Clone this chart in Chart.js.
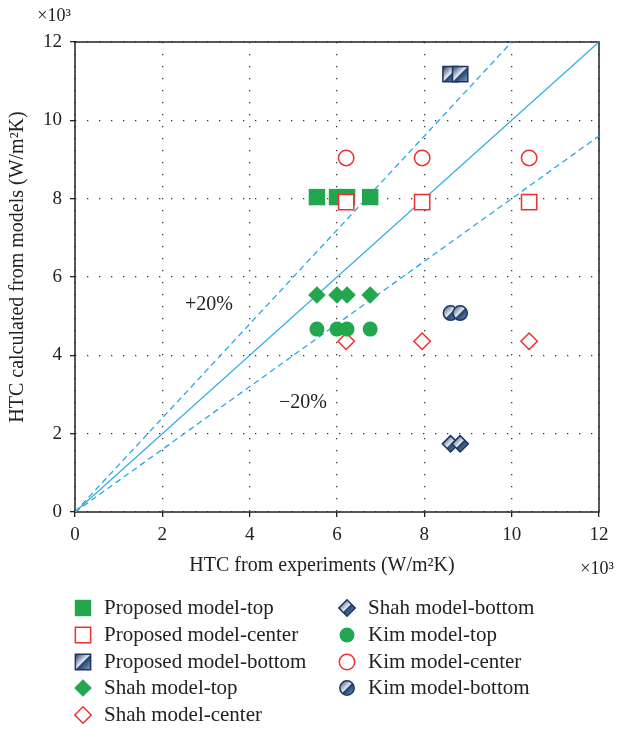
<!DOCTYPE html>
<html>
<head>
<meta charset="utf-8">
<script src="https://cdn.jsdelivr.net/npm/chart.js@4/dist/chart.umd.min.js"></script>
<style>
  html, body { margin: 0; padding: 0; background: #fff; }
  #wrap { width: 619px; height: 729px; }
</style>
</head>
<body>
<div id="wrap"><canvas id="c" width="619" height="729"></canvas></div>
<script>
// Experimental HTC (x10^3 W/m2K) at each tube position
const expTop    = [5.54, 6.00, 6.23, 6.76];
const expCenter = [6.21, 7.95, 10.40];
const expBottom = [8.60, 8.82];

// Model predictions (x10^3 W/m2K), one value per experimental point
const proposedTop    = [8.04, 8.04, 8.04, 8.04];
const proposedCenter = [7.91, 7.91, 7.91];
const proposedBottom = [11.18, 11.18];
const shahTop        = [5.54, 5.54, 5.54, 5.54];
const shahCenter     = [4.36, 4.36, 4.36];
const shahBottom     = [1.74, 1.74];
const kimTop         = [4.67, 4.67, 4.67, 4.67];
const kimCenter      = [9.04, 9.04, 9.04];
const kimBottom      = [5.08, 5.08];

// Parity line and the ±20% band
const parityLine = [[0, 0], [12, 12]];
const upperBand  = [[0, 0], [10, 12]];
const lowerBand  = [[0, 0], [12, 9.6]];

const axisTicks = [0, 2, 4, 6, 8, 10, 12];

const GREEN = '#22a64e';
const RED = '#ee2f2f';
const NAVY = '#1a3560';
const BLUE = '#29a9e0';
const SERIF = '"Liberation Serif", "DejaVu Serif", serif';

function pts(xs, ys) { return xs.map((x, i) => ({ x: x, y: ys[i] })); }
function linePts(arr) { return arr.map(p => ({ x: p[0], y: p[1] })); }

function glossFill(ctx, px, py, r) {
  if (!isFinite(px) || !isFinite(py)) return NAVY;
  const g = ctx.createLinearGradient(px - r, py - r, px + r, py + r);
  g.addColorStop(0, '#17305a');
  g.addColorStop(0.48, '#e6ecf3');
  g.addColorStop(0.53, '#24426f');
  g.addColorStop(1, '#8fa6c4');
  return g;
}
function glossPoint(c) {
  if (c.type !== 'data' || !c.parsed) return NAVY;
  const sx = c.chart.scales.x, sy = c.chart.scales.y;
  if (!sx || !sy) return NAVY;
  return glossFill(c.chart.ctx, sx.getPixelForValue(c.parsed.x), sy.getPixelForValue(c.parsed.y), 8);
}

let seriesCount = 0;
function series(label, xs, ys, style, radius, fill, border, bw, gloss) {
  seriesCount += 1;
  return {
    label: label,
    data: pts(xs, ys),
    pointStyle: style,
    pointRadius: radius,
    pointHoverRadius: radius,
    pointBackgroundColor: gloss ? glossPoint : fill,
    pointBorderColor: border,
    pointBorderWidth: bw,
    showLine: false,
    // later series are painted over earlier ones
    order: 20 - seriesCount,
    gloss: !!gloss,
    legendFill: fill
  };
}
function guide(data, dash) {
  return {
    label: '',
    data: linePts(data),
    showLine: true,
    pointRadius: 0,
    borderColor: BLUE,
    borderWidth: 1.3,
    borderDash: dash,
    order: 50
  };
}

const datasets = [
  series('Proposed model-top',    expTop,    proposedTop,    'rect',    11.6, GREEN, GREEN, 0),
  series('Proposed model-center', expCenter, proposedCenter, 'rect',    10.8, '#fff', RED, 1.5),
  series('Proposed model-bottom', expBottom, proposedBottom, 'rect',    10.8, NAVY, NAVY, 1.5, true),
  series('Shah model-top',        expTop,    shahTop,        'rectRot', 8.8, GREEN, GREEN, 0),
  series('Shah model-center',     expCenter, shahCenter,     'rectRot', 8.2, '#fff', RED, 1.5),
  series('Shah model-bottom',     expBottom, shahBottom,     'rectRot', 8.2, NAVY, NAVY, 1.5, true),
  series('Kim model-top',         expTop,    kimTop,         'circle',  7.5, GREEN, GREEN, 0),
  series('Kim model-center',      expCenter, kimCenter,      'circle',  7.7, '#fff', RED, 1.5),
  series('Kim model-bottom',      expBottom, kimBottom,      'circle',  7.2, NAVY, NAVY, 1.5, true),
  guide(parityLine, []),
  guide(upperBand, [6, 4]),
  guide(lowerBand, [6, 4])
];

// Two-column legend order
const legendColumns = [[0, 1, 2, 3, 4], [5, 6, 7, 8]];

const decor = {
  id: 'decor',
  beforeDatasetsDraw(chart) {
    const { ctx, chartArea: a } = chart;
    ctx.save();
    ctx.strokeStyle = '#222';
    ctx.lineWidth = 1.5;
    ctx.strokeRect(a.left, a.top, a.right - a.left, a.bottom - a.top);
    ctx.restore();
  },
  afterDraw(chart) {
    const { ctx } = chart;
    ctx.save();
    ctx.fillStyle = '#222';
    ctx.textBaseline = 'middle';

    // multiplier labels
    ctx.font = '18px ' + SERIF;
    ctx.textAlign = 'center';
    ctx.fillText('×10³', 54, 16);
    ctx.fillText('×10³', 597, 569);

    // axis titles
    ctx.font = '20px ' + SERIF;
    ctx.fillText('HTC from experiments (W/m²K)', 322, 566);
    ctx.save();
    ctx.translate(18, 267);
    ctx.rotate(-Math.PI / 2);
    ctx.fillText('HTC calculated from models (W/m²K)', 0, 0);
    ctx.restore();

    // band labels
    ctx.fillText('+20%', 209, 305);
    ctx.fillText('\u221220%', 303, 403);

    // legend
    const colX = [83, 347];
    const rowY = [608, 635, 662, 688, 715];
    ctx.font = '21px ' + SERIF;
    ctx.textAlign = 'left';
    legendColumns.forEach((col, ci) => {
      col.forEach((di, ri) => {
        const ds = chart.data.datasets[di];
        const x = colX[ci], y = rowY[ri];
        ctx.save();
        ctx.fillStyle = ds.gloss ? glossFill(ctx, x, y, 8) : ds.legendFill;
        ctx.strokeStyle = ds.pointBorderColor;
        ctx.lineWidth = ds.pointBorderWidth;
        Chart.helpers.drawPoint(ctx, {
          pointStyle: ds.pointStyle,
          radius: ds.pointRadius,
          borderWidth: ds.pointBorderWidth,
          rotation: 0
        }, x, y);
        ctx.restore();
        ctx.fillStyle = '#222';
        ctx.fillText(ds.label, x + 21, y);
      });
    });
    ctx.restore();
  }
};

function axis(pos) {
  return {
    type: 'linear',
    position: pos,
    min: axisTicks[0],
    max: axisTicks[axisTicks.length - 1],
    afterBuildTicks: s => { s.ticks = axisTicks.map(v => ({ value: v })); },
    ticks: {
      color: '#222',
      font: { family: SERIF, size: 19 },
      padding: pos === 'bottom' ? 7 : 8,
      callback: v => String(v)
    },
    grid: {
      color: '#333',
      lineWidth: 1.3,
      drawTicks: true,
      tickLength: 5,
      tickColor: '#222',
      tickWidth: 1.3,
      tickBorderDash: []
    },
    border: { display: false, dash: [1.3, 10.7] },
    afterFit: s => {
      if (pos === 'bottom') s.height = 40; else s.width = 75;
    }
  };
}

new Chart(document.getElementById('c'), {
  type: 'scatter',
  data: { datasets: datasets },
  options: {
    responsive: false,
    animation: false,
    events: [],
    layout: { padding: { top: 42, right: 20, left: 0, bottom: 177 } },
    plugins: { legend: { display: false }, tooltip: { enabled: false } },
    scales: { x: axis('bottom'), y: axis('left') }
  },
  plugins: [decor]
});
</script>
</body>
</html>
